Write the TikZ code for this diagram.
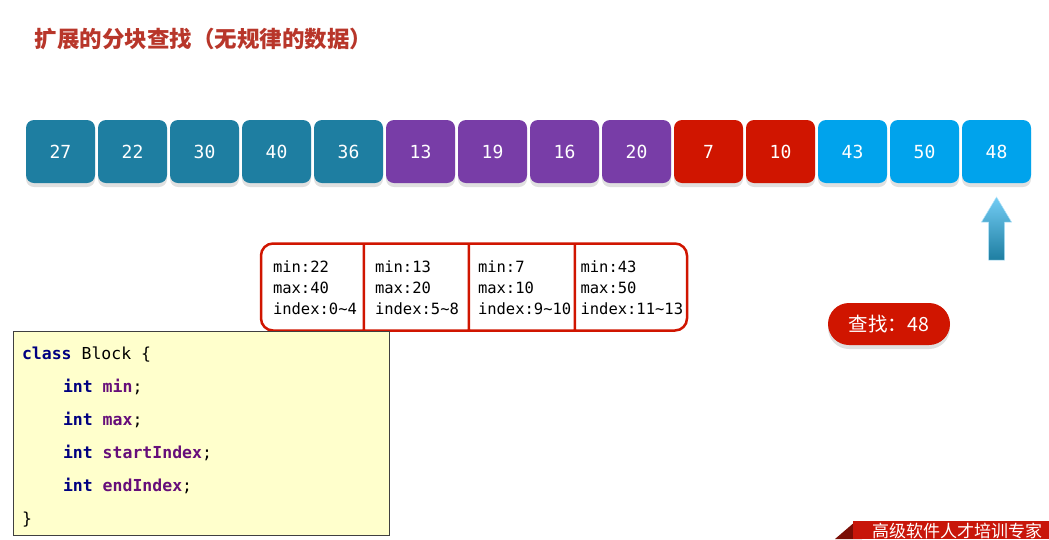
\documentclass[tikz,border=0pt]{standalone}
\usepackage{fontspec}
\usepackage{xcolor}
\usetikzlibrary{shapes.multipart,chains,positioning,shadows}
\setmonofont{DejaVu Sans Mono}
\newfontfamily\cjk{Noto Sans CJK SC}

\definecolor{blocka}{HTML}{1E7EA1}
\definecolor{blockb}{HTML}{783DA7}
\definecolor{blockc}{HTML}{D01500}
\definecolor{blockd}{HTML}{00A3EC}
\definecolor{titlered}{HTML}{B8362A}
\definecolor{codebg}{HTML}{FFFFCC}
\definecolor{kwblue}{HTML}{000080}
\definecolor{fldpurple}{HTML}{660E7A}
\definecolor{bannerdark}{HTML}{7A0E06}
\definecolor{bannerred}{HTML}{C8160A}

\newcommand{\kw}[1]{{\bfseries\color{kwblue}#1}}
\newcommand{\fld}[1]{{\bfseries\color{fldpurple}#1}}
\newcommand{\tld}{\textasciitilde}
\newcommand{\gap}{\hspace*{0.602em}}
\newcommand{\blockpart}[5]{\makebox[#1pt][l]{\hspace{#2pt}\begin{tabular}{@{}l@{}}\rule{0pt}{19.7pt}#3\\#4\\#5\end{tabular}}}

\tikzset{
    cell/.style={
        rectangle, rounded corners=8pt, fill=#1,
        minimum width=69pt, minimum height=63pt,
        inner sep=0pt, outer sep=0pt, text=white, on chain,
        font=\fontsize{18pt}{18pt}\selectfont\ttfamily,
        drop shadow={shadow xshift=0pt, shadow yshift=-4pt, fill=black!12, opacity=1}
    },
    blocks/.style={
        rectangle split, rectangle split parts=4,
        rectangle split horizontal, draw=blockc,
        line width=2.5pt, rounded corners=12pt,
        inner xsep=0pt, inner ysep=9.5pt, outer sep=0pt,
        font=\fontsize{15.5pt}{21pt}\selectfont\ttfamily
    },
    codebox/.style={
        rectangle, draw=black!75, line width=0.8pt, fill=codebg,
        minimum width=376pt, minimum height=204pt,
        text width=358pt, align=left, inner xsep=9pt, inner ysep=0.5pt,
        font=\fontsize{16.5pt}{33pt}\selectfont\ttfamily
    },
    pill/.style={
        rectangle, rounded corners=21pt, fill=blockc, text=white,
        minimum width=122pt, minimum height=42pt,
        font=\fontsize{19.5pt}{20pt}\selectfont\cjk,
        drop shadow={shadow xshift=0pt, shadow yshift=-4pt, fill=black!12, opacity=1}
    },
    pointer/.style={top color=blockd!55, bottom color=blocka, draw=blockd!30, line width=0.5pt}
}

\begin{document}
\begin{tikzpicture}[x=1pt, y=-1pt]
    \useasboundingbox (0,0) rectangle (1049,539);

    \node[anchor=west, text=titlered, font=\fontsize{22.5pt}{24pt}\selectfont\cjk\bfseries] (title) at (31,39) {扩展的分块查找（无规律的数据）};

    % the data row
    \begin{scope}[start chain=going right, node distance=3pt]
    \node[cell=blocka, at={(60.5,151.5)}] (c0) {27};
    \node[cell=blocka] (c1) {22};
    \node[cell=blocka] (c2) {30};
    \node[cell=blocka] (c3) {40};
    \node[cell=blocka] (c4) {36};
    \node[cell=blockb] (c5) {13};
    \node[cell=blockb] (c6) {19};
    \node[cell=blockb] (c7) {16};
    \node[cell=blockb] (c8) {20};
    \node[cell=blockc] (c9) {7};
    \node[cell=blockc] (c10) {10};
    \node[cell=blockd] (c11) {43};
    \node[cell=blockd] (c12) {50};
    \node[cell=blockd] (c13) {48};
    \end{scope}

    % index table
    \node[blocks] (index) at (474,287) {%
        \nodepart{one}{\blockpart{101.5}{12}{min:22}{max:40}{index:0\tld4}}%
        \nodepart{two}{\blockpart{102.5}{10}{min:13}{max:20}{index:5\tld8}}%
        \nodepart{three}{\blockpart{103.5}{8}{min:7}{max:10}{index:9\tld10}}%
        \nodepart{four}{\blockpart{111}{4.5}{min:43}{max:50}{index:11\tld13}}%
    };

    \node[codebox] (code) at (201,433) {\begin{tabular}{@{}l@{}}
        \rule{0pt}{28.1pt}\kw{class}\gap Block\gap\{\\
        \hspace*{41pt}\kw{int}\gap\fld{min};\\
        \hspace*{41pt}\kw{int}\gap\fld{max};\\
        \hspace*{41pt}\kw{int}\gap\fld{startIndex};\\
        \hspace*{41pt}\kw{int}\gap\fld{endIndex};\\
        \}
    \end{tabular}};

    \node[pill] (find) at (889,324) {查找：48};

    % arrow under the last cell
    \coordinate (ptr) at (c13.south |- 0,260);
    \shade[pointer] (ptr) ++(-8,0) -- ++(0,-38) -- ++(-7,0) -- ++(15,-25)
        -- ++(15,25) -- ++(-7,0) -- ++(0,38) -- cycle;

    % banner
    \fill[bannerdark] (835,539) -- (856,521) -- (862,539) -- cycle;
    \fill[bannerred] (853,521) rectangle (1049,539);
    \node[anchor=west, text=white, inner sep=0pt, font=\fontsize{17pt}{18pt}\selectfont\cjk] (motto) at (872,530.5) {高级软件人才培训专家};
\end{tikzpicture}
\end{document}
